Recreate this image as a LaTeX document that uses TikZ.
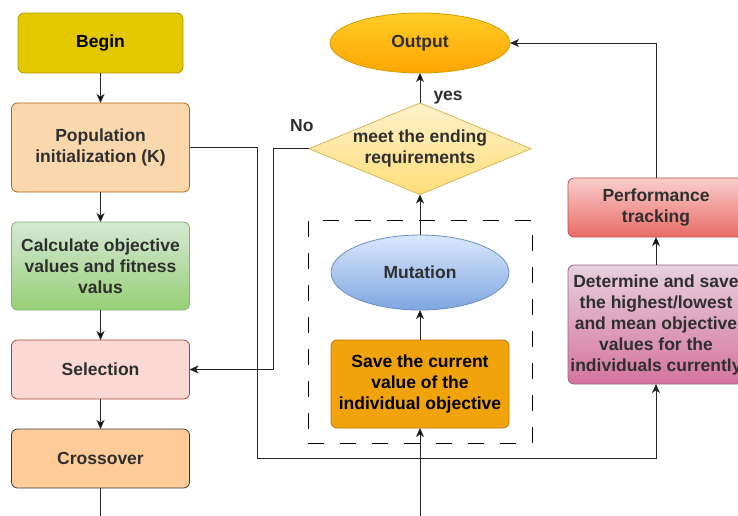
\documentclass[tikz,border=0pt]{standalone}
\usepackage{fontspec}
\setmainfont{Liberation Sans}
\usetikzlibrary{arrows.meta, positioning, shapes.geometric, fit}

\definecolor{beginfill}{HTML}{E3C800}
\definecolor{beginline}{HTML}{B09500}
\definecolor{orangefill}{HTML}{FAD7AC}
\definecolor{orangeline}{HTML}{B46504}
\definecolor{greentop}{HTML}{D5E8D4}
\definecolor{greenbot}{HTML}{97D077}
\definecolor{greenline}{HTML}{82B366}
\definecolor{selfill}{HTML}{FAD9D5}
\definecolor{selline}{HTML}{AE4132}
\definecolor{crossfill}{HTML}{FFCC99}
\definecolor{crossline}{HTML}{36393D}
\definecolor{outtop}{HTML}{FFCD28}
\definecolor{outbot}{HTML}{FFA500}
\definecolor{outline}{HTML}{D79B00}
\definecolor{dectop}{HTML}{FFF2CC}
\definecolor{decbot}{HTML}{FFDD77}
\definecolor{decline}{HTML}{D6B656}
\definecolor{bluetop}{HTML}{DAE8FC}
\definecolor{bluebot}{HTML}{7EA6E0}
\definecolor{blueline}{HTML}{6C8EBF}
\definecolor{savefill}{HTML}{F0A30A}
\definecolor{saveline}{HTML}{BD7000}
\definecolor{redtop}{HTML}{F8CECC}
\definecolor{redbot}{HTML}{EA6B66}
\definecolor{redline}{HTML}{B85450}
\definecolor{pinktop}{HTML}{E6D0DE}
\definecolor{pinkbot}{HTML}{D5739D}
\definecolor{pinkline}{HTML}{996185}
\definecolor{inktext}{HTML}{2F2F2F}

\begin{document}
\begin{tikzpicture}[x=1pt, y=-1pt,
    node distance=30pt,
    >={Stealth[length=9pt,width=8pt,inset=2.5pt]},
    font=\fontsize{17.5}{21}\selectfont\bfseries,
    every node/.style={text=inktext},
    procbox/.style={draw, rounded corners=6pt, line width=0.8pt, align=center,
      minimum width=178pt, inner sep=2pt, outer sep=0pt},
    terminal/.style={draw, ellipse, line width=0.8pt, align=center, inner sep=0pt,
      outer sep=0pt},
    decision/.style={draw, diamond, line width=0.8pt, align=center, outer sep=0pt,
      inner xsep=-35pt, inner ysep=-5pt, minimum width=222pt, minimum height=87pt},
    groupbox/.style={draw, dash pattern=on 16pt off 16pt, line width=1pt,
      inner xsep=23pt, inner ysep=15pt},
    flow/.style={->, line width=1pt, draw=black!85},
    tag/.style={inner sep=0pt}]

    \clip (0,0) rectangle (738,515);
    \useasboundingbox (0,0) rectangle (738,515);

    % left column
    \node[procbox, fill=beginfill, draw=beginline, minimum width=165pt,
      minimum height=60pt, text=black] (begin) at (100.5,43) {Begin};
    \node[procbox, fill=orangefill, draw=orangeline, minimum height=89pt]
      (pop_init) [below=of begin] {Population\\initialization (K)};
    \node[procbox, top color=greentop, bottom color=greenbot, draw=greenline,
      minimum height=88pt] (calc) [below=of pop_init]
      {Calculate objective\\values and fitness\\valus};
    \node[procbox, fill=selfill, draw=selline, minimum height=59pt]
      (selection) [below=of calc] {Selection};
    \node[procbox, fill=crossfill, draw=crossline, minimum height=59pt]
      (crossover) [below=of selection] {Crossover};

    % middle column
    \node[terminal, top color=outtop, bottom color=outbot, draw=outline,
      minimum width=180pt, minimum height=60pt] (output) at (420,43) {Output};
    \node[decision, top color=dectop, bottom color=decbot, draw=decline]
      (ending) [below=of output] {meet the ending\\requirements};
    \node[terminal, top color=bluetop, bottom color=bluebot, draw=blueline,
      minimum width=178pt, minimum height=75pt] (mutation) at (420,272.5) {Mutation};
    \node[procbox, fill=savefill, draw=saveline, minimum height=88pt, text=black]
      (save_box) [below=of mutation] {Save the current\\value of the\\individual objective};
    \node[groupbox, fit=(mutation)(save_box)] (mutate_group) {};

    % right column
    \node[procbox, top color=redtop, bottom color=redbot, draw=redline,
      minimum width=176pt, minimum height=59pt] (tracking) at (656,207.5)
      {Performance\\tracking};
    \node[procbox, top color=pinktop, bottom color=pinkbot, draw=pinkline,
      minimum width=176pt, minimum height=119pt] (determine) at (656,324.5)
      {Determine and save\\the highest/lowest\\and mean objective\\values for the\\individuals currently};

    \coordinate (cross_end) at (100.5,530);
    \coordinate (save_end) at (420,530);
    \path (determine.south) ++(0,74.5) coordinate (track_turn);

    \path[flow]
    (begin)     edge (pop_init)
    (pop_init)  edge (calc)
    (calc)      edge (selection)
    (selection) edge (crossover)
    (save_end)  edge (save_box)
    (save_box)  edge (mutation)
    (mutation)  edge (ending)
    (ending)    edge node [tag, pos=0.1, anchor=base west, xshift=13pt] {yes} (output)
    (determine) edge (tracking)
    ;

    \draw[line width=1pt, draw=black!85] (crossover) -- (cross_end);
    \draw[flow] (ending.west) -- node [tag, pos=0.2, above=17pt] {No}
      ++(-36,0) |- (selection.east);
    \draw[flow] (pop_init.east) -- ++(68,0) |- (track_turn) -- (determine.south);
    \draw[flow] (tracking.north) |- (output.east);
\end{tikzpicture}
\end{document}
